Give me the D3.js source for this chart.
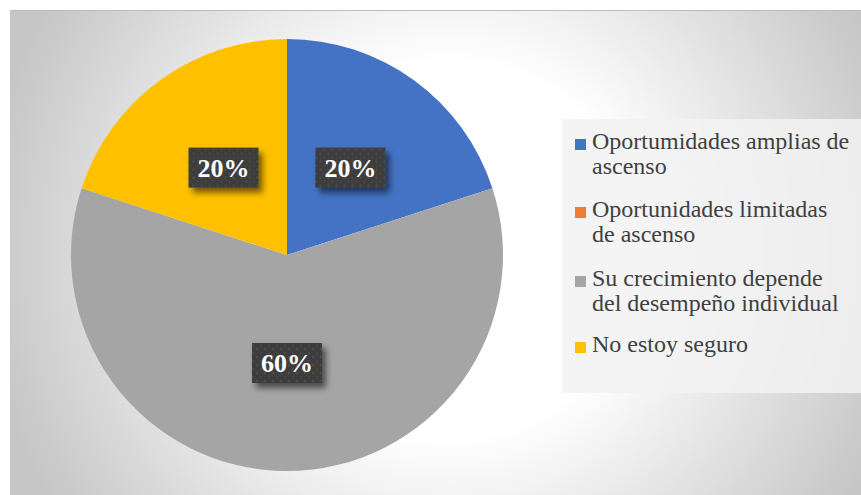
<!DOCTYPE html>
<html>
<head>
<meta charset="utf-8">
<script src="https://cdn.jsdelivr.net/npm/d3@7"></script>
<style>
  body { margin: 0; background: #fff; }
  svg { display: block; }
</style>
</head>
<body>
<div id="chart-area"></div>
<script>
// datos del gráfico
const categories = [
  "Oportumidades amplias de ascenso",
  "Oportunidades limitadas de ascenso",
  "Su crecimiento depende del desempeño individual",
  "No estoy seguro"
]
const values = [20, 0, 60, 20]
const legendLines = [
  ["Oportumidades amplias de", "ascenso"],
  ["Oportunidades limitadas", "de ascenso"],
  ["Su crecimiento depende", "del desempeño individual"],
  ["No estoy seguro"]
]
const colors = ["#4472C4", "#ED7D31", "#A5A5A5", "#FFC000"]

const W = 861, H = 495
const CX = 287, CY = 255, R = 216
const FONT = "'Liberation Serif', 'Times New Roman', serif"

const svg = d3.select("#chart-area").append("svg")
  .attr("width", W)
  .attr("height", H)

const defs = svg.append("defs")

// fondo con degradado radial
const grad = defs.append("radialGradient")
  .attr("id", "bg")
  .attr("gradientUnits", "userSpaceOnUse")
  .attr("cx", 450).attr("cy", 250).attr("r", 470)
grad.append("stop").attr("offset", "0").attr("stop-color", "#ffffff")
grad.append("stop").attr("offset", "0.4").attr("stop-color", "#ffffff")
grad.append("stop").attr("offset", "1").attr("stop-color", "#c6c6c6")

// patrón de puntos para las etiquetas
const pat = defs.append("pattern")
  .attr("id", "dots")
  .attr("patternUnits", "userSpaceOnUse")
  .attr("width", 8).attr("height", 8)
pat.append("rect").attr("width", 8).attr("height", 8).attr("fill", "#3d3d3d")
pat.append("circle").attr("cx", 2).attr("cy", 2).attr("r", 1.2).attr("fill", "#4d4d4d")
pat.append("circle").attr("cx", 6).attr("cy", 6).attr("r", 1.2).attr("fill", "#474747")

// sombra de las etiquetas
const shadow = defs.append("filter").attr("id", "shadow")
  .attr("x", "-30%").attr("y", "-30%").attr("width", "160%").attr("height", "180%")
shadow.append("feGaussianBlur").attr("in", "SourceAlpha").attr("stdDeviation", 3)
shadow.append("feOffset").attr("dx", 4).attr("dy", 5).attr("result", "blur")
shadow.append("feComponentTransfer").append("feFuncA").attr("type", "linear").attr("slope", 0.55)
const merge = shadow.append("feMerge")
merge.append("feMergeNode")
merge.append("feMergeNode").attr("in", "SourceGraphic")

svg.append("rect")
  .attr("x", 10).attr("y", 10)
  .attr("width", W - 10).attr("height", H - 10)
  .attr("fill", "url(#bg)")
svg.append("line")
  .attr("x1", 10).attr("x2", W).attr("y1", 10.5).attr("y2", 10.5)
  .attr("stroke", "#bdbdbd")

// pastel
const data = categories.map((c, i) => ({ name: c, value: values[i], color: colors[i] }))
const pie = d3.pie().sort(null).value(d => d.value)
const arc = d3.arc().innerRadius(0).outerRadius(R)
const labelArc = d3.arc().innerRadius(R * 0.5).outerRadius(R * 0.5)

const g = svg.append("g").attr("transform", `translate(${CX}, ${CY})`)
const arcs = pie(data)

g.selectAll("path.slice")
  .data(arcs)
  .join("path")
  .attr("class", "slice")
  .attr("d", arc)
  .attr("fill", d => d.data.color)

const total = d3.sum(values)
const labels = g.selectAll("g.lbl")
  .data(arcs.filter(d => d.data.value > 0))
  .join("g")
  .attr("class", "lbl")
  .attr("transform", d => `translate(${labelArc.centroid(d)})`)

labels.append("rect")
  .attr("x", -35).attr("y", -20)
  .attr("width", 70).attr("height", 40)
  .attr("fill", "url(#dots)")
  .attr("filter", "url(#shadow)")

labels.append("text")
  .attr("text-anchor", "middle")
  .attr("dy", "0.35em")
  .style("font-family", FONT)
  .attr("font-weight", "bold")
  .attr("font-size", "26px")
  .attr("fill", "#ffffff")
  .text(d => Math.round(d.data.value / total * 100) + "%")

// leyenda
const legend = svg.append("g")
legend.append("rect")
  .attr("x", 562).attr("y", 119)
  .attr("width", W - 562).attr("height", 274)
  .attr("fill", "#f2f2f2").attr("fill-opacity", 0.85)

const baselines = [149, 217, 286, 352]
const items = legend.selectAll("g.item")
  .data(data)
  .join("g")
  .attr("class", "item")
  .attr("transform", (d, i) => `translate(575, ${baselines[i]})`)

items.append("rect")
  .attr("x", 0).attr("y", -10)
  .attr("width", 11).attr("height", 11)
  .attr("fill", d => d.color)

items.append("text")
  .attr("x", 17)
  .style("font-family", FONT)
  .attr("font-size", "24px")
  .attr("fill", "#404040")
  .selectAll("tspan")
  .data((d, i) => legendLines[i])
  .join("tspan")
  .attr("x", 17)
  .attr("dy", (d, j) => j === 0 ? 0 : 24.5)
  .text(d => d)
</script>
</body>
</html>
